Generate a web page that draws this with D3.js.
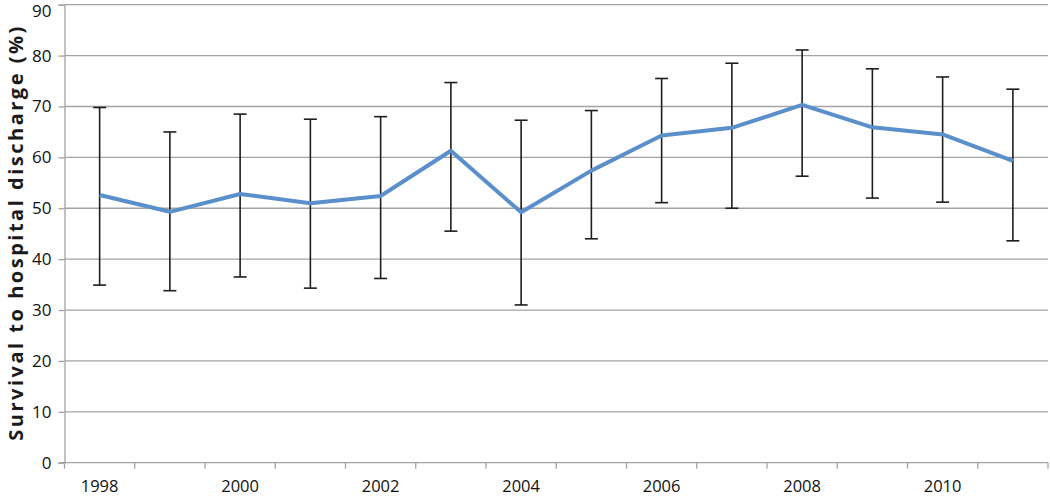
<!DOCTYPE html>
<html lang="en">
  <head>
    <meta charset="UTF-8" />
    <title>Survival to hospital discharge</title>
    <script src="https://d3js.org/d3.v7.min.js"></script>
    <style>
      body { margin: 0; background: #fff; }
      text { font-family: "Open Sans", sans-serif; }
    </style>
  </head>
  <body>
    <div id="chart"></div>
    <script>
      // values
      const years = ["1998", "1999", "2000", "2001", "2002", "2003", "2004",
                     "2005", "2006", "2007", "2008", "2009", "2010", "2011"];
      const survival = [52.6, 49.3, 52.8, 51.0, 52.4, 61.3, 49.2,
                        57.4, 64.3, 65.8, 70.3, 65.9, 64.5, 59.3];
      const upper = [69.8, 65.0, 68.5, 67.5, 68.0, 74.7, 67.3,
                     69.2, 75.5, 78.5, 81.1, 77.4, 75.8, 73.4];
      const lower = [34.9, 33.8, 36.5, 34.3, 36.2, 45.5, 31.0,
                     44.0, 51.1, 50.0, 56.3, 52.0, 51.2, 43.6];
      const yTicks = [0, 10, 20, 30, 40, 50, 60, 70, 80, 90];
      const xLabels = ["1998", "2000", "2002", "2004", "2006", "2008", "2010"];

      const width = 1050, height = 496;
      const margin = { top: 4.7, right: 2, bottom: 33.3, left: 64.5 };

      const svg = d3.select("#chart").append("svg")
        .attr("width", width)
        .attr("height", height);

      const x = d3.scaleBand()
        .domain(years)
        .range([margin.left, width - margin.right]);

      const y = d3.scaleLinear()
        .domain([0, 90])
        .range([height - margin.bottom, margin.top]);

      // gridlines
      svg.append("g")
        .selectAll("line")
        .data(yTicks.filter(d => d > 0))
        .join("line")
        .attr("x1", margin.left)
        .attr("x2", width - margin.right)
        .attr("y1", d => y(d))
        .attr("y2", d => y(d))
        .attr("stroke", "#a3a3a3")
        .attr("stroke-width", 1.3);

      // y axis
      const yAxis = svg.append("g")
        .attr("transform", `translate(${margin.left},0)`)
        .call(d3.axisLeft(y).tickValues(yTicks).tickSize(6).tickPadding(7));
      yAxis.select(".domain").attr("stroke", "#a3a3a3").attr("stroke-width", 1.3);
      yAxis.selectAll(".tick line").attr("stroke", "#a3a3a3").attr("stroke-width", 1.3);
      yAxis.selectAll(".tick text")
        .attr("font-size", 17)
        .attr("fill", "#111")
        .style("font-family", "'Open Sans', sans-serif");
      // keep the top label inside the picture
      yAxis.selectAll(".tick text").filter(d => d === 90).attr("dy", "0.72em");

      // x axis, ticks between categories
      const xAxis = svg.append("g")
        .attr("transform", `translate(0,${y(0)})`);
      xAxis.append("line")
        .attr("x1", margin.left - 6)
        .attr("x2", width - margin.right)
        .attr("stroke", "#a3a3a3")
        .attr("stroke-width", 1.3);
      const bounds = years.map(d => x(d)).concat([x(years[years.length - 1]) + x.bandwidth()]);
      xAxis.selectAll(".xt")
        .data(bounds)
        .join("line")
        .attr("class", "xt")
        .attr("x1", d => d)
        .attr("x2", d => d)
        .attr("y1", 0)
        .attr("y2", 6)
        .attr("stroke", "#a3a3a3")
        .attr("stroke-width", 1.3);
      xAxis.selectAll(".xl")
        .data(xLabels)
        .join("text")
        .attr("class", "xl")
        .attr("x", d => x(d) + x.bandwidth() / 2)
        .attr("y", 29)
        .attr("text-anchor", "middle")
        .attr("font-size", 16.5)
        .attr("fill", "#111")
        .text(d => d);

      // y title
      svg.append("text")
        .attr("transform", `translate(23,${(y(0) + y(90)) / 2}) rotate(-90)`)
        .attr("text-anchor", "middle")
        .attr("font-size", 20)
        .attr("font-weight", "bold")
        .attr("fill", "#1a1a1a")
        .attr("textLength", 414)
        .attr("lengthAdjust", "spacing")
        .text("Survival to hospital discharge (%)");

      const cx = d => x(d) + x.bandwidth() / 2;

      // error bars
      const eb = svg.append("g")
        .attr("stroke", "#1e1e1e")
        .attr("stroke-width", 1.6);
      years.forEach((yr, i) => {
        eb.append("line")
          .attr("x1", cx(yr)).attr("x2", cx(yr))
          .attr("y1", y(lower[i])).attr("y2", y(upper[i]));
        [lower[i], upper[i]].forEach(v => {
          eb.append("line")
            .attr("x1", cx(yr) - 6.5).attr("x2", cx(yr) + 6.5)
            .attr("y1", y(v)).attr("y2", y(v));
        });
      });

      // main line
      const line = d3.line()
        .x((d, i) => cx(years[i]))
        .y(d => y(d));
      svg.append("path")
        .datum(survival)
        .attr("d", line)
        .attr("fill", "none")
        .attr("stroke", "#5b8fcb")
        .attr("stroke-width", 4)
        .attr("stroke-linejoin", "round");
    </script>
  </body>
</html>
